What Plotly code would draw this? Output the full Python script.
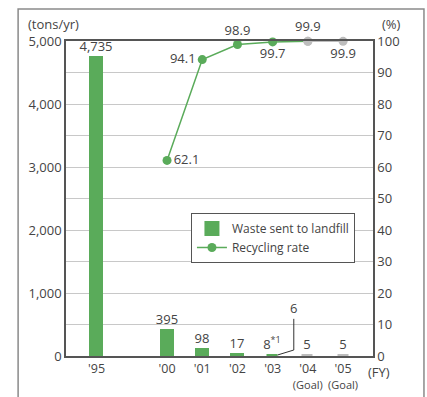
import plotly.graph_objects as go

# Fiscal years shown on the category axis (a blank slot separates '95 from '00)
years = ["'95", "'00", "'01", "'02", "'03", "'04", "'05"]
goal_note = "<br><span style='font-size:11px'>(Goal)</span>"
year_labels = ["'95", "'00", "'01", "'02", "'03", "'04" + goal_note, "'05" + goal_note]
is_goal = [False, False, False, False, False, True, True]

# Waste sent to landfill (tons/yr)
landfill = [4735, 395, 98, 17, 8, 5, 5]
landfill_text = ["4,735", "395", "98", "17", "8<sup>*1</sup>", "5", "5"]

# Recycling rate (%), from FY2000 onward
rate_years = ["'00", "'01", "'02", "'03", "'04", "'05"]
rate = [62.1, 94.1, 98.9, 99.7, 99.9, 99.9]
rate_goal = [False, False, False, False, True, True]
rate_textpos = ["middle right", "middle left", "top center",
                "bottom center", "top center", "bottom center"]

GREEN = "#5aab5a"
GREY = "#bdbdbd"
TEXT = "#444444"
FONT = "Open Sans"

axis_order = [years[0], " "] + years[1:]

bar_colors = [GREY if g else GREEN for g in is_goal]

fig = go.Figure()

fig.add_trace(go.Bar(
    x=years, y=landfill, name="Waste sent to landfill",
    marker=dict(color=bar_colors, line=dict(color=bar_colors, width=3)),
    width=0.31,
    text=landfill_text, textposition="outside", cliponaxis=False,
    constraintext="none",
    textfont=dict(size=13, color=TEXT, family=FONT),
    yaxis="y",
))

# Actual-result part of the recycling line (through the first goal year)
n_act = rate_goal.index(True) + 1
fig.add_trace(go.Scatter(
    x=rate_years[:n_act], y=rate[:n_act], name="Recycling rate",
    mode="lines+markers+text",
    line=dict(color=GREEN, width=1.5),
    marker=dict(color=[GREY if g else GREEN for g in rate_goal[:n_act]], size=9),
    text=[f"{v:.1f}" for v in rate[:n_act]],
    textposition=rate_textpos[:n_act],
    textfont=dict(size=13, color=TEXT, family=FONT),
    cliponaxis=False,
    yaxis="y2",
))

# Goal segment of the recycling line
k = n_act - 1
fig.add_trace(go.Scatter(
    x=rate_years[k:], y=rate[k:], showlegend=False,
    mode="lines+markers+text",
    line=dict(color=GREY, width=1.5),
    marker=dict(color=GREY, size=9),
    text=[""] + [f"{v:.1f}" for v in rate[k + 1:]],
    textposition=rate_textpos[k:],
    textfont=dict(size=13, color=TEXT, family=FONT),
    cliponaxis=False,
    yaxis="y2",
))

# Leader line and note next to the FY2003 bar
i03 = axis_order.index("'03")
shape_line = dict(color="#333333", width=1)
fig.add_shape(type="line", xref="x", yref="y", x0=i03 + 0.14, y0=16,
              x1=i03 + 0.6, y1=95, line=shape_line)
fig.add_shape(type="line", xref="x", yref="y", x0=i03 + 0.6, y0=95,
              x1=i03 + 0.6, y1=590, line=shape_line)
fig.add_annotation(x=i03 + 0.6, y=590, xref="x", yref="y", text="6",
                   showarrow=False, yanchor="bottom",
                   font=dict(size=13, color=TEXT, family=FONT))

# Unit labels
fig.add_annotation(x=-0.13, y=1.054, xref="paper", yref="paper", text="(tons/yr)",
                   showarrow=False, xanchor="left", yanchor="middle",
                   font=dict(size=13, color=TEXT, family=FONT))
fig.add_annotation(x=1.059, y=1.054, xref="paper", yref="paper", text="(%)",
                   showarrow=False, xanchor="center", yanchor="middle",
                   font=dict(size=13, color=TEXT, family=FONT))
fig.add_annotation(x=0.978, y=-0.05, xref="paper", yref="paper", text="(FY)",
                   showarrow=False, xanchor="left", yanchor="middle",
                   font=dict(size=13, color=TEXT, family=FONT))

# Outer frame around the whole chart
fig.add_shape(type="rect", xref="paper", yref="paper",
              x0=-0.156, y0=-0.14, x1=1.166, y1=1.1016,
              line=dict(color="#8a8a8a", width=1.5), layer="below")

fig.update_layout(
    width=427, height=397,
    margin=dict(l=66, r=54, t=41, b=41, autoexpand=False),
    paper_bgcolor="white", plot_bgcolor="white",
    font=dict(family=FONT, size=13, color=TEXT),
    bargap=0,
    xaxis=dict(
        type="category", categoryorder="array", categoryarray=axis_order,
        tickvals=years, ticktext=year_labels, tickangle=0, automargin=False,
        range=[-0.87, 7.85],
        showline=True, linecolor="#555555", linewidth=1.5, mirror=True,
        showgrid=False, ticks="", tickfont=dict(size=12.5, color=TEXT),
    ),
    yaxis=dict(
        range=[0, 5000], tickvals=[0, 1000, 2000, 3000, 4000, 5000],
        tickformat=",d", automargin=False,
        showline=True, linecolor="#555555", linewidth=1.5, mirror=True,
        showgrid=False, zeroline=False, ticks="",
        minor=dict(dtick=500, showgrid=True, gridcolor="#c8c8c8", gridwidth=1),
        tickfont=dict(size=13, color=TEXT),
    ),
    yaxis2=dict(
        range=[0, 100], dtick=10, overlaying="y", side="right",
        showgrid=False, zeroline=False, showline=True, linecolor="#555555",
        linewidth=1.5, ticks="", automargin=False,
        tickfont=dict(size=13, color=TEXT),
    ),
    legend=dict(
        x=0.407, y=0.454, xanchor="left", yanchor="top",
        bgcolor="white", bordercolor="#555555", borderwidth=1,
        font=dict(size=12, color=TEXT, family=FONT),
        tracegroupgap=0, itemwidth=30,
    ),
    showlegend=True,
)

fig.write_html("out.html")
